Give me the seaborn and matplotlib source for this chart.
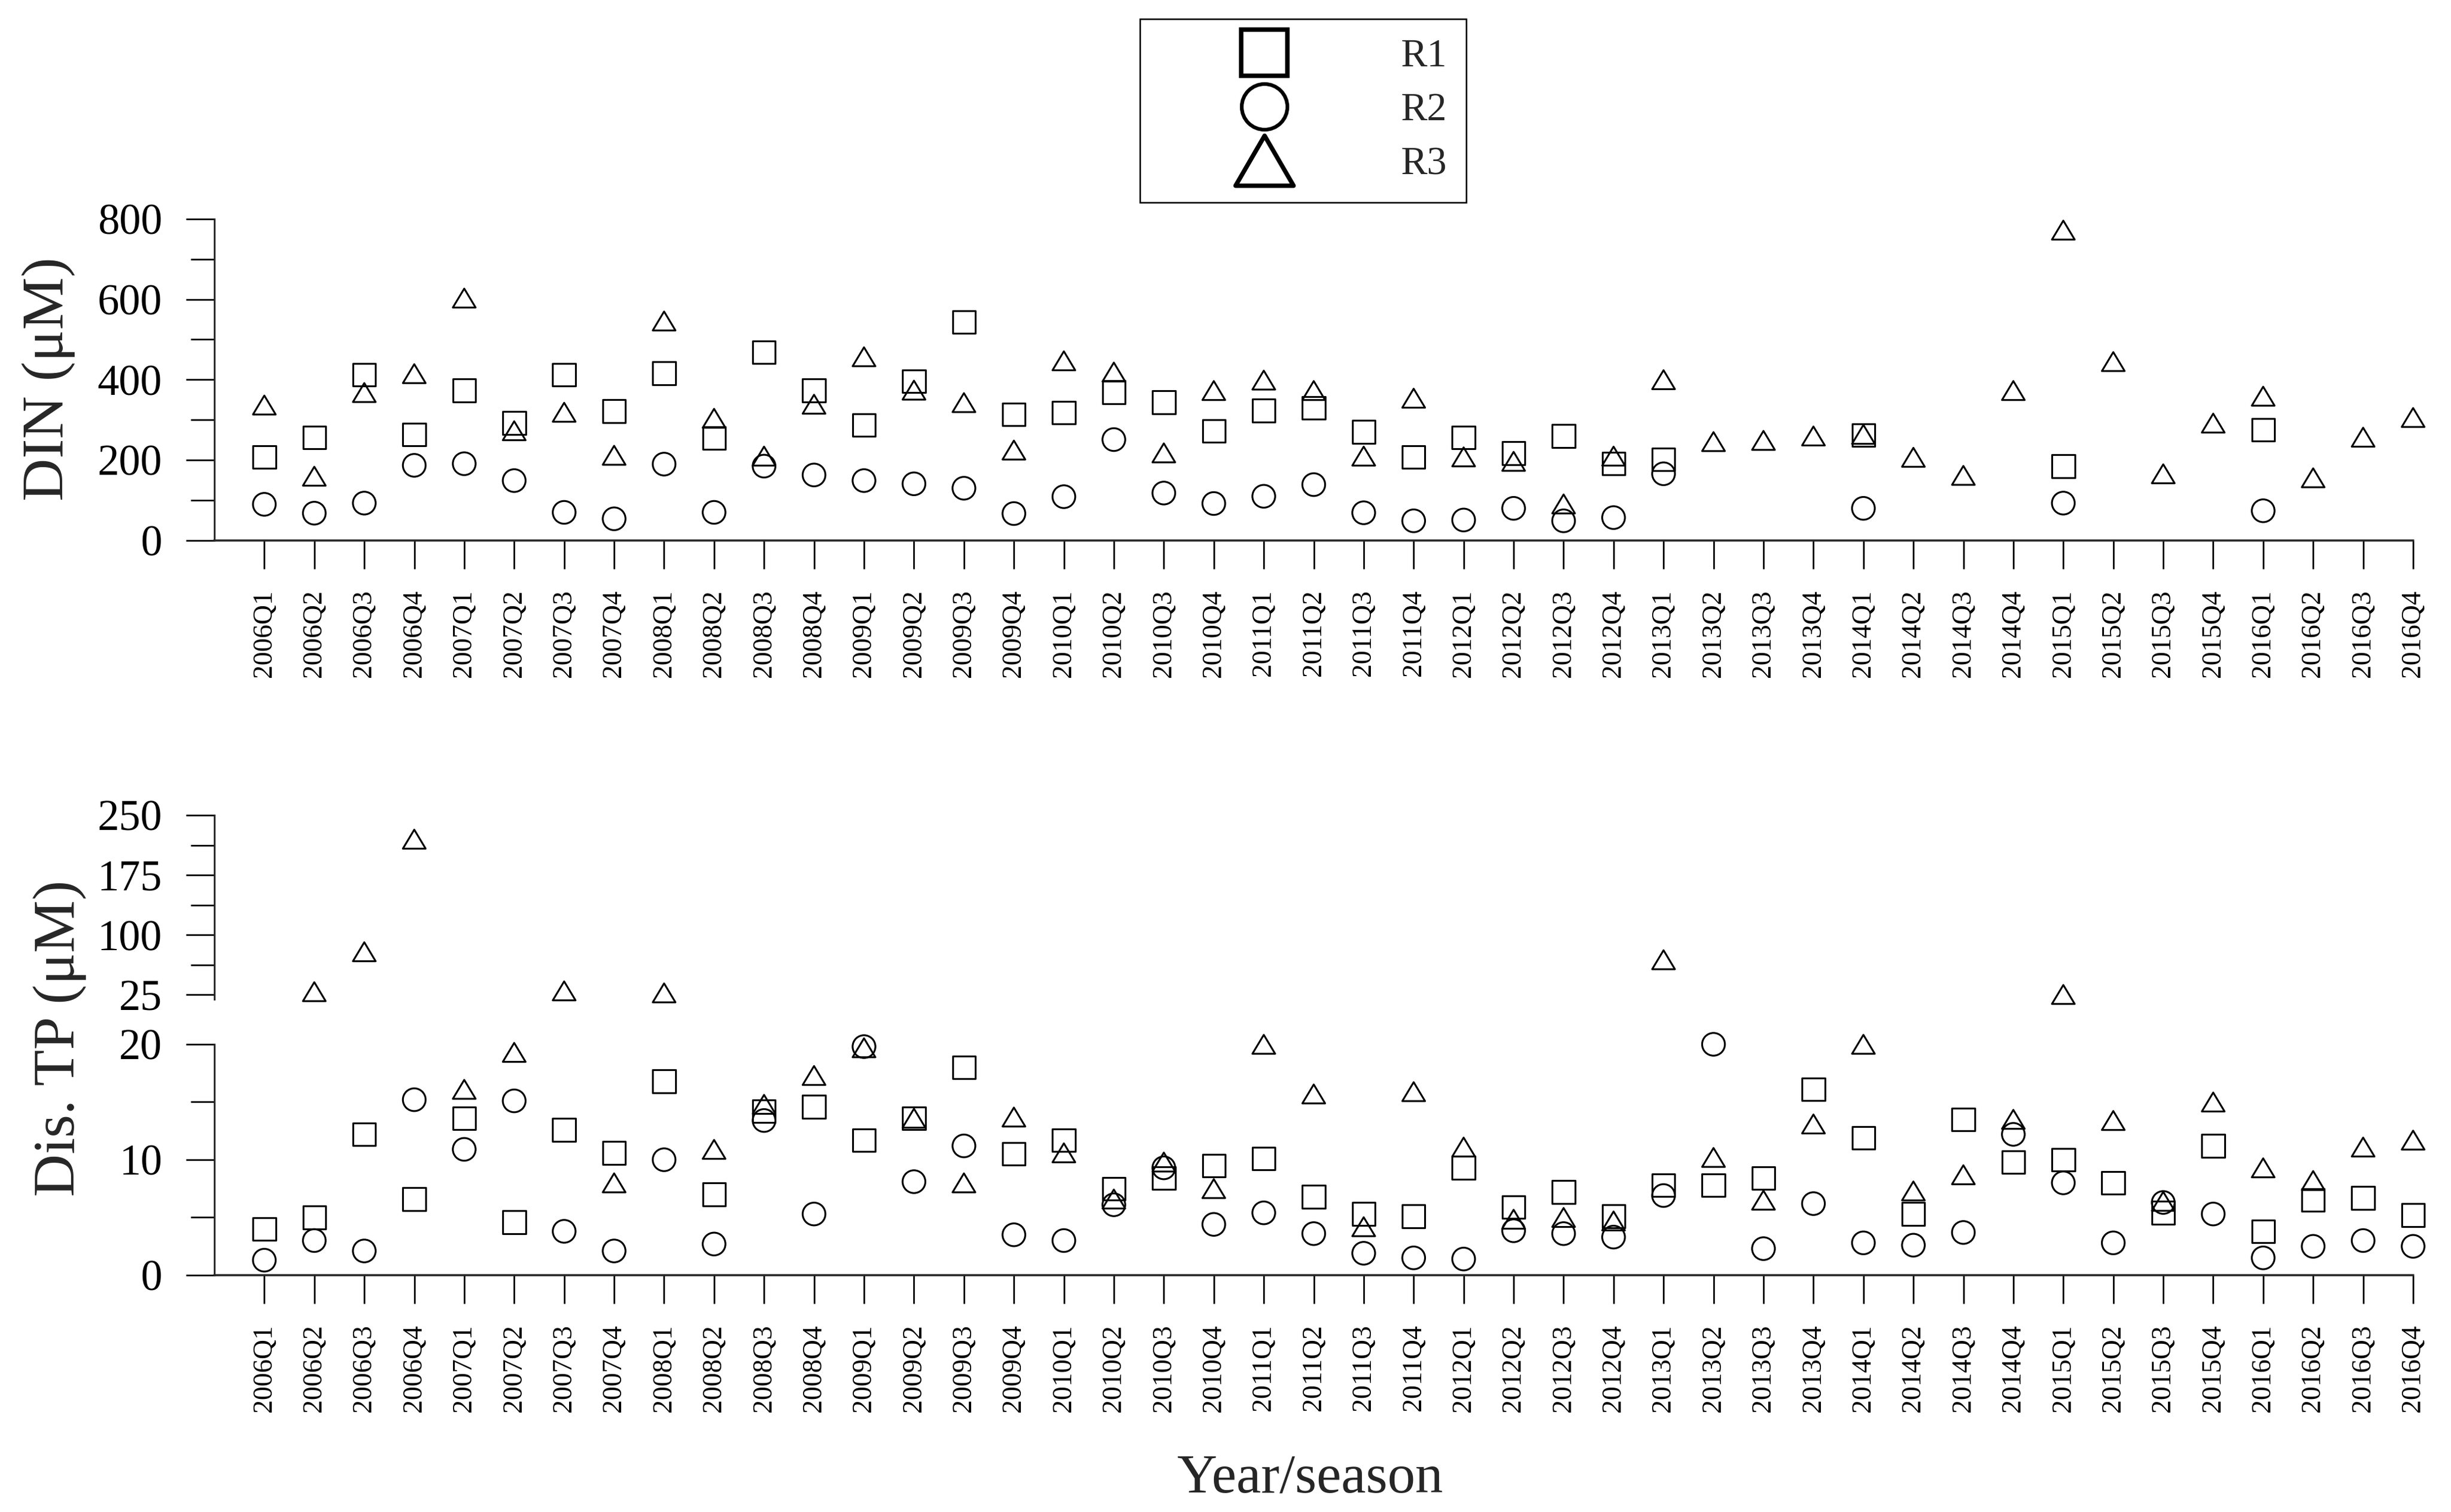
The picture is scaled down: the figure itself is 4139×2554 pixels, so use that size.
import numpy as np
import pandas as pd
import matplotlib
matplotlib.use("Agg")
import matplotlib.pyplot as plt
from matplotlib.lines import Line2D
from matplotlib.path import Path
from matplotlib.ticker import MultipleLocator, FixedLocator
import seaborn as sns

nan = np.nan

years = range(2006, 2017)
seasons = [f"{y}Q{q}" for y in years for q in range(1, 5)]

# DIN (uM)
din_r1 = [208, 256, 412, 264, 373, 292, 412, 322, 416, 255, 468, 373, 287, 396, 543,
          314, 318, 369, 344, 272, 323, 330, 270, 208, 256, 217, 260, 191, 202, nan,
          nan, nan, 262, nan, nan, nan, 185, nan, nan, nan, 275, nan, nan, nan]
din_r2 = [90, 68, 93, 187, 191, 149, 70, 54, 190, 70, 185, 163, 149, 141, 130,
          67, 109, 251, 118, 92, 110, 139, 69, 49, 51, 80, 49, 57, 166, nan,
          nan, nan, 80, nan, nan, nan, 93, nan, nan, nan, 74, nan, nan, nan]
din_r3 = [337, 160, 368, 415, 603, 273, 319, 212, 546, 304, 210, 339, 457, 374, 343,
          225, 447, 419, 218, 373, 399, 373, 210, 354, 208, 197, 91, 210, 400, 246,
          249, 260, 264, 207, 162, 373, 772, 445, 166, 292, 359, 156, 257, 306]

# Dissolved TP (uM)
tp_r1 = [4.0, 5.0, 12.2, 6.6, 13.6, 4.6, 12.6, 10.6, 16.8, 7.0, 14.2, 14.6, 11.7, 13.6, 18.0,
         10.5, 11.7, 7.5, 8.4, 9.5, 10.1, 6.8, 5.3, 5.1, 9.3, 5.9, 7.2, 5.1, 7.8, 7.8,
         8.4, 16.1, 11.9, 5.3, 13.5, 9.8, 10.0, 8.0, 5.4, 11.2, 3.8, 6.5, 6.7, 5.2]
tp_r2 = [1.3, 3.0, 2.1, 15.2, 10.9, 15.1, 3.8, 2.1, 10.0, 2.7, 13.4, 5.3, 19.8, 8.1, 11.2,
         3.5, 3.0, 6.1, 9.3, 4.4, 5.4, 3.6, 1.9, 1.5, 1.4, 3.85, 3.6, 3.3, 6.9, 20.0,
         2.3, 6.2, 2.8, 2.6, 3.7, 12.2, 8.0, 2.8, 6.3, 5.3, 1.5, 2.5, 3.0, 2.5]
tp_r3 = [nan, 29, 79, 220, 16.1, 19.3, 30, 8.0, 27.5, 10.9, 14.8, 17.3, 19.7, 13.6, 8.0,
         13.7, 10.6, 6.6, 9.8, 7.5, 20.0, 15.7, 4.2, 15.9, 11.1, 4.85, 5.0, 4.7, 69, 10.2,
         6.5, 13.1, 20.0, 7.3, 8.7, 13.5, 25.5, 13.4, 6.4, 15.0, 9.3, 8.2, 11.1, 11.7]

sites = ["R1", "R2", "R3"]
BREAK = 20.5


def long_table(r1, r2, r3):
    parts = []
    for name, vals in zip(sites, [r1, r2, r3]):
        parts.append(pd.DataFrame({"pos": np.arange(len(seasons)), "site": name,
                                   "value": vals}))
    return pd.concat(parts, ignore_index=True).dropna()


din = long_table(din_r1, din_r2, din_r3)
tp = long_table(tp_r1, tp_r2, tp_r3)

sns.set_theme(style="ticks")
plt.rcParams["font.family"] = ["Liberation Serif", "DejaVu Serif"]
plt.rcParams["mathtext.fontset"] = "stix"

tri = Path([(0, 1), (-1.2, -1), (1.2, -1), (0, 1)],
           [Path.MOVETO, Path.LINETO, Path.LINETO, Path.CLOSEPOLY])
markers = {"R1": "s", "R2": "o", "R3": tri}

fig = plt.figure(figsize=(4139 / 300, 2554 / 300), dpi=300)
left, width = 0.08746, 0.89708
ax_din = fig.add_axes([left, 0.64252, width, 0.21273])
ax_hi = fig.add_axes([left, 0.33927, width, 0.12158])
ax_lo = fig.add_axes([left, 0.15662, width, 0.15270])

scatter_kw = dict(x="pos", y="value", style="site", markers=markers, style_order=sites,
                  s=85, facecolor="none", edgecolor="black", linewidth=0.75,
                  legend=False, clip_on=False, zorder=3)

sns.scatterplot(data=din, ax=ax_din, **scatter_kw)
sns.scatterplot(data=tp[tp["value"] <= BREAK], ax=ax_lo, **scatter_kw)
sns.scatterplot(data=tp[tp["value"] > BREAK], ax=ax_hi, **scatter_kw)

for ax in [ax_din, ax_hi, ax_lo]:
    ax.set_xlim(-1, len(seasons) - 1)
    ax.set_xlabel("")
    ax.set_ylabel("")
    ax.spines["top"].set_visible(False)
    ax.spines["right"].set_visible(False)
    ax.spines["left"].set_linewidth(0.7)
    ax.spines["bottom"].set_linewidth(0.85)
    ax.tick_params(axis="y", which="major", direction="out", length=11.5, width=0.65,
                   labelsize=17.5, pad=9.6, color="black", labelcolor="black")
    ax.tick_params(axis="y", which="minor", direction="out", length=9.6, width=0.65,
                   color="black")
    ax.patch.set_alpha(0)

for ax in [ax_din, ax_lo]:
    ax.set_xticks(range(len(seasons)))
    ax.set_xticklabels(seasons, rotation=90)
    ax.tick_params(axis="x", direction="out", length=11.5, width=0.65, labelsize=11,
                   pad=8.5, color="black", labelcolor="black")

ax_hi.spines["bottom"].set_visible(False)
ax_hi.tick_params(axis="x", bottom=False, labelbottom=False)

ax_din.set_ylim(0, 800)
ax_din.yaxis.set_major_locator(MultipleLocator(200))
ax_din.yaxis.set_minor_locator(MultipleLocator(100))

ax_lo.set_ylim(0, 20)
ax_lo.yaxis.set_major_locator(MultipleLocator(10))
ax_lo.yaxis.set_minor_locator(MultipleLocator(5))

ax_hi.set_ylim(19.8, 250)
ax_hi.yaxis.set_major_locator(FixedLocator([25, 100, 175, 250]))
ax_hi.yaxis.set_minor_locator(FixedLocator([62.5, 137.5, 212.5]))

fig.text(0.0256, 0.7494, "DIN (μM)", rotation=90, rotation_mode="anchor",
         ha="center", va="baseline", fontsize=24)
fig.text(0.0302, 0.3132, "Dis. TP (μM)", rotation=90, rotation_mode="anchor",
         ha="center", va="baseline", fontsize=24)
fig.text(0.5344, 0.0133, "Year/season", ha="center", va="baseline", fontsize=22.5)

big_tri = Path([(0, 1), (-1.16, -1), (1.16, -1), (0, 1)],
               [Path.MOVETO, Path.LINETO, Path.LINETO, Path.CLOSEPOLY])
handles = [
    Line2D([], [], ls="none", marker="s", ms=18.5, mfc="none", mec="black", mew=1.8, label="R1"),
    Line2D([], [], ls="none", marker="o", ms=18.5, mfc="none", mec="black", mew=1.5, label="R2"),
    Line2D([], [], ls="none", marker=big_tri, ms=23.5, mfc="none", mec="black", mew=1.8, label="R3"),
]
leg = fig.legend(handles=handles, loc="upper left", bbox_to_anchor=(0.4651, 0.9875),
                 fontsize=16, frameon=True, fancybox=False, edgecolor="black",
                 framealpha=1, borderpad=0.5, handlelength=5.3, handletextpad=0.8,
                 labelspacing=0.45, borderaxespad=0)
leg.get_frame().set_linewidth(0.6)

fig.savefig("out.png", dpi=300)
